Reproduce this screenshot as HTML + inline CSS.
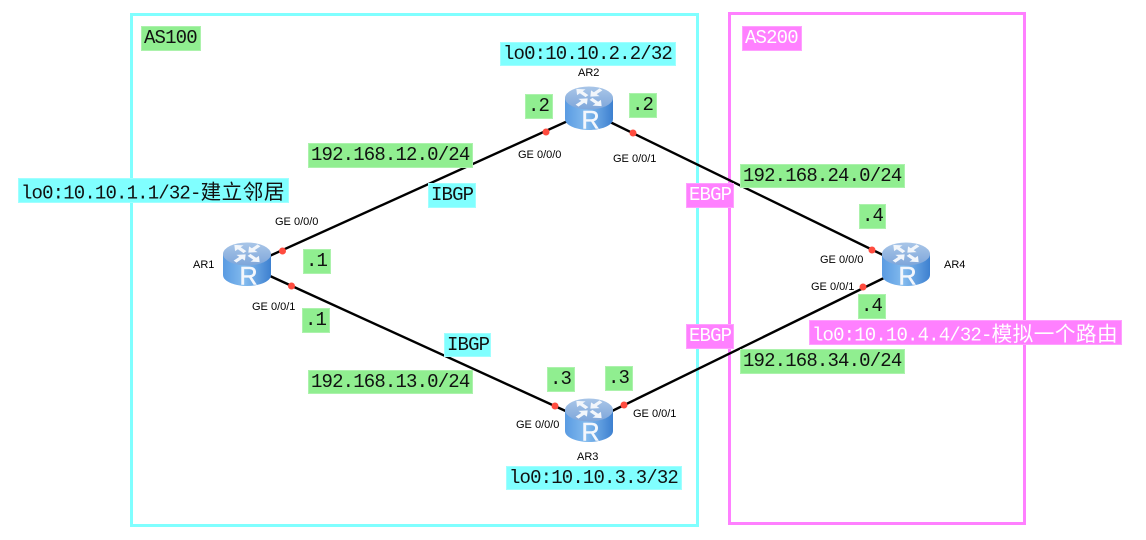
<!DOCTYPE html>
<html><head><meta charset="utf-8"><style>
html,body{margin:0;padding:0;background:#fff}
#p{position:relative;width:1146px;height:540px;overflow:hidden;background:#fff}
.b{position:absolute;box-sizing:border-box}
.t{position:absolute;box-sizing:border-box;font:19px/23px "Liberation Mono","Noto Sans CJK SC",monospace;letter-spacing:-.84px;color:#111;white-space:nowrap;padding-left:2px;border:1px solid rgba(255,255,255,.25)}
.t span{font:20.6px/23px "Noto Sans CJK SC",sans-serif;letter-spacing:.5px;vertical-align:-.5px}
.g{background:#90ee90}.c{background:#80ffff}.m{background:#ff80ff;color:#fff}
svg{position:absolute;left:0;top:0}
</style></head><body><div id="p">
<div class="b" style="left:130px;top:13px;width:569px;height:514px;border:3px solid #80ffff"></div>
<div class="b" style="left:728px;top:12px;width:298px;height:513px;border:3px solid #ff80ff"></div>
<svg width="1146" height="540" viewBox="0 0 1146 540">
<defs>
<linearGradient id="bd" x1="0" x2="1" y1="0" y2="0"><stop offset="0" stop-color="#5a9be2"/><stop offset=".45" stop-color="#83bbee"/><stop offset="1" stop-color="#3d80d0"/></linearGradient>
<linearGradient id="tp" x1="0" x2="0" y1="0" y2="1"><stop offset="0" stop-color="#a9c6e8"/><stop offset="1" stop-color="#7ea6da"/></linearGradient>
<path id="a" d="M-2,4 L-2,-4 L-6,-4 L0,-11 L6,-4 L2,-4 L2,4 Z" fill="#f2f6fb"/>
<g id="r">
<path d="M-24,-10 V11 C-24,18 -11,22 0,22 C11,22 24,18 24,11 V-10 Z" fill="url(#bd)"/>
<ellipse cx="0" cy="-10" rx="24" ry="11.500" fill="url(#tp)"/>
<g transform="translate(0,-10.500) scale(1,.68)">
<use href="#a" transform="translate(-7,-7) rotate(-45) translate(0,3)"/>
<use href="#a" transform="translate(7,-7) rotate(225) translate(0,3)"/>
<use href="#a" transform="translate(7,7) rotate(135) translate(0,3)"/>
<use href="#a" transform="translate(-7,7) rotate(45) translate(0,3)"/>
</g>
<text x="1.500" y="20.500" font-family="Liberation Sans,sans-serif" font-size="25" fill="#f4f7fc" stroke="#f4f7fc" stroke-width=".5" text-anchor="middle">R</text>
</g>
</defs>
<g stroke="#000" stroke-width="2.400" fill="none">
<line x1="265" y1="258" x2="570" y2="120"/>
<line x1="270" y1="276" x2="570" y2="413"/>
<line x1="610" y1="122" x2="885" y2="256"/>
<line x1="610" y1="412" x2="888" y2="276"/>
</g>
<use href="#r" x="247" y="264"/>
<use href="#r" x="589" y="108"/>
<use href="#r" x="589" y="420"/>
<use href="#r" x="906" y="264"/>
<g fill="#ff4c3f">
<circle cx="282.500" cy="251" r="3.500"/><circle cx="291.500" cy="286" r="3.500"/>
<circle cx="546" cy="132" r="3.500"/><circle cx="633" cy="133" r="3.500"/>
<circle cx="555" cy="406" r="3.500"/><circle cx="624" cy="405" r="3.500"/>
<circle cx="872" cy="250" r="3.500"/><circle cx="863" cy="287" r="3.500"/>
</g>
<g font-family="Liberation Sans,sans-serif" font-size="11" fill="#000">
<text x="275" y="225">GE 0/0/0</text>
<text x="252" y="310">GE 0/0/1</text>
<text x="518" y="158">GE 0/0/0</text>
<text x="613" y="162">GE 0/0/1</text>
<text x="516" y="428">GE 0/0/0</text>
<text x="633" y="417">GE 0/0/1</text>
<text x="820" y="263">GE 0/0/0</text>
<text x="811" y="290">GE 0/0/1</text>
<text x="193" y="268">AR1</text>
<text x="578" y="76">AR2</text>
<text x="577" y="460">AR3</text>
<text x="944" y="268">AR4</text>
</g>
</svg>
<div class="t g" style="left:141px;top:26px;width:60px;height:25px">AS100</div>
<div class="t m" style="left:742px;top:26px;width:60px;height:25px">AS200</div>
<div class="t c" style="left:18px;top:178px;width:271px;height:25px">lo0:10.10.1.1/32-<span>建立邻居</span></div>
<div class="t c" style="left:500px;top:42px;width:176px;height:24px">lo0:10.10.2.2/32</div>
<div class="t c" style="left:506px;top:466px;width:176px;height:24px">lo0:10.10.3.3/32</div>
<div class="t m" style="left:809px;top:320px;width:313px;height:25px">lo0:10.10.4.4/32-<span>模拟一个路由</span></div>
<div class="t g" style="left:308px;top:143px;width:165px;height:25px">192.168.12.0/24</div>
<div class="t g" style="left:308px;top:370px;width:165px;height:24px">192.168.13.0/24</div>
<div class="t g" style="left:740px;top:164px;width:165px;height:24px">192.168.24.0/24</div>
<div class="t g" style="left:740px;top:349px;width:165px;height:25px">192.168.34.0/24</div>
<div class="t c" style="left:428px;top:183px;width:48px;height:25px">IBGP</div>
<div class="t c" style="left:444px;top:333px;width:47px;height:24px">IBGP</div>
<div class="t m" style="left:686px;top:183px;width:48px;height:25px">EBGP</div>
<div class="t m" style="left:686px;top:324px;width:48px;height:25px">EBGP</div>
<div class="t g" style="left:525px;top:94px;width:28px;height:25px">.2</div>
<div class="t g" style="left:629px;top:93px;width:28px;height:25px">.2</div>
<div class="t g" style="left:859px;top:204px;width:27px;height:25px">.4</div>
<div class="t g" style="left:858px;top:294px;width:28px;height:25px">.4</div>
<div class="t g" style="left:303px;top:249px;width:28px;height:25px">.1</div>
<div class="t g" style="left:302px;top:308px;width:28px;height:25px">.1</div>
<div class="t g" style="left:547px;top:367px;width:28px;height:25px">.3</div>
<div class="t g" style="left:605px;top:366px;width:28px;height:25px">.3</div>
</div></body></html>
